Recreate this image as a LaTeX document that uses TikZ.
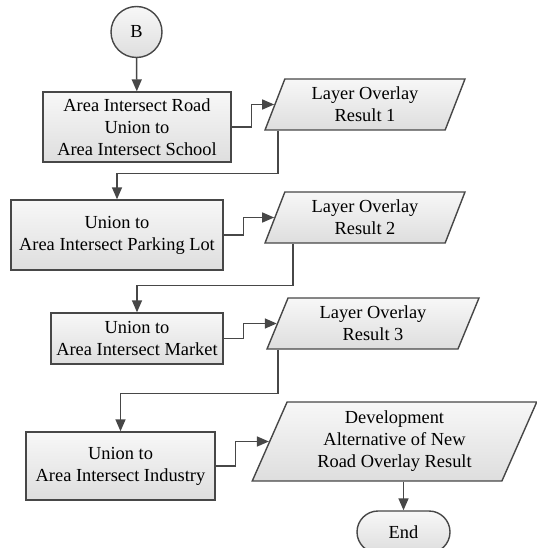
\documentclass[tikz,border=0pt]{standalone}
\usepackage{fontspec}
\setmainfont{Liberation Serif}
\usetikzlibrary{shapes.geometric,shapes.misc,arrows.meta,calc}
\definecolor{linegray}{HTML}{474747}

\begin{document}
\begin{tikzpicture}[x=1pt,y=-1pt,
  font=\fontsize{18.4}{22}\selectfont,
  shp/.style={draw=linegray,line width=1.4pt,top color=white!97!black,
    bottom color=white!87!black,align=center,inner sep=1pt},
  process/.style={shp,rectangle},
  data/.style={shp,trapezium,trapezium left angle=70,trapezium right angle=110,
    trapezium stretches=true},
  conn/.style={draw=linegray,line width=1.5pt,-{Triangle[length=12pt,width=10pt]}}]
  \useasboundingbox (0,0) rectangle (537,548);

  \node[shp,circle,minimum size=51] (B) at (136.5,32) {B};
  \node[process,minimum width=188,minimum height=70] (s1) at (137,127)
    {Area Intersect Road\\Union to\\Area Intersect School};
  \node[data,minimum width=200,minimum height=51] (r1) at (365,104.5)
    {Layer Overlay\\Result 1};
  \node[process,minimum width=212,minimum height=70] (s2) at (117,235)
    {Union to\\Area Intersect Parking Lot};
  \node[data,minimum width=200,minimum height=51] (r2) at (365,217.5)
    {Layer Overlay\\Result 2};
  \node[process,minimum width=172,minimum height=51] (s3) at (137,338.5)
    {Union to\\Area Intersect Market};
  \node[data,minimum width=212,minimum height=51] (r3) at (373,323.5)
    {Layer Overlay\\Result 3};
  \node[process,minimum width=189,minimum height=68] (s4) at (120.5,466)
    {Union to\\Area Intersect Industry};
  \node[data,trapezium left angle=68,trapezium right angle=112,
    minimum width=285,minimum height=79] (r4) at (394.5,441.5)
    {Development\\Alternative of New\\Road Overlay Result};
  \node[shp,rounded rectangle,minimum width=95,minimum height=42] (end) at (403.5,532) {End};

  \draw[conn] (B) -- (s1);
  \draw[conn] (s1.east) -- ++(20,0) |- (r1.west);
  \draw[conn] ($(r1.bottom left corner)+(14,0)$) -- ++(0,43) -| (s2.north);
  \draw[conn] (s2.east) -- ++(20,0) |- (r2.west);
  \draw[conn] ($(r2.bottom left corner)+(29,0)$) -- ++(0,42) -| (s3.north);
  \draw[conn] (s3.east) -- ++(20,0) |- (r3.west);
  \draw[conn] ($(r3.bottom left corner)+(12,0)$) -- ++(0,44) -| (s4.north);
  \draw[conn] (s4.east) -- ++(20,0) |- (r4.west);
  \draw[conn] (end.north |- r4.south) -- (end.north);
\end{tikzpicture}
\end{document}
